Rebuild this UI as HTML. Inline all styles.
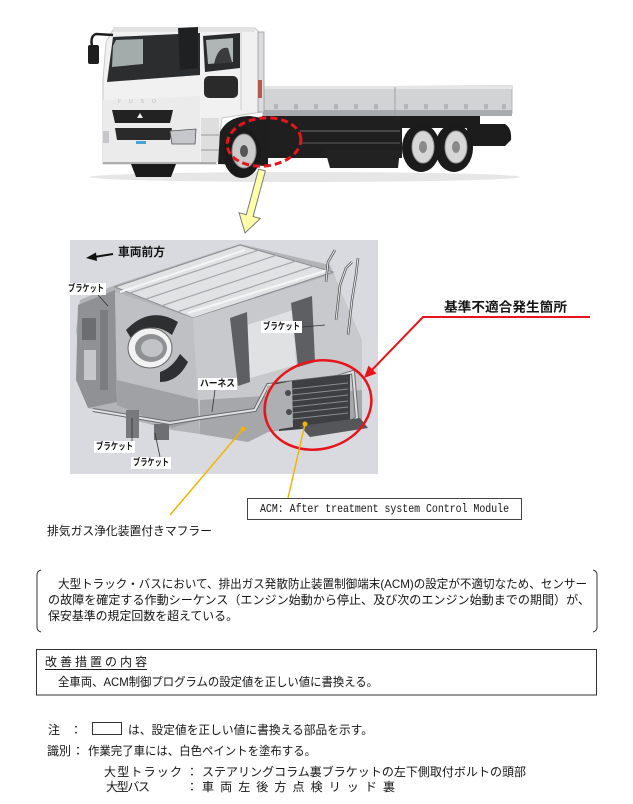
<!DOCTYPE html>
<html><head><meta charset="utf-8"><style>
html,body{margin:0;padding:0;background:#fff;}
svg{display:block;}
.jp{font-family:"Liberation Sans","Noto Sans CJK JP","IPAGothic",sans-serif;fill:#151515;}
</style></head><body>
<svg width="633" height="804" viewBox="0 0 633 804" xmlns="http://www.w3.org/2000/svg">
<rect width="633" height="804" fill="#fff"/>

<!-- ================= TRUCK ================= -->
<ellipse cx="305" cy="177" rx="215" ry="5" fill="#e6e6e6"/>
<!-- bed -->
<polygon points="263,87 512,86 512,113 263,116" fill="#d2d3d5" stroke="#b5b6b8" stroke-width="1"/>
<rect x="263" y="86" width="249" height="3" fill="#e4e5e6"/>
<rect x="263" y="110" width="249" height="6" fill="#a9aaad"/>
<line x1="395" y1="87" x2="395" y2="115" stroke="#a0a0a3"/>
<g fill="#b4b5b8">
<rect x="274" y="104" width="4" height="5"/><rect x="294" y="104" width="4" height="5"/><rect x="314" y="104" width="4" height="5"/>
<rect x="334" y="104" width="4" height="5"/><rect x="354" y="104" width="4" height="5"/><rect x="374" y="104" width="4" height="5"/>
<rect x="404" y="104" width="4" height="5"/><rect x="424" y="104" width="4" height="5"/><rect x="444" y="104" width="4" height="5"/>
<rect x="464" y="104" width="4" height="5"/><rect x="484" y="104" width="4" height="5"/><rect x="502" y="104" width="4" height="5"/>
</g>
<!-- chassis -->
<rect x="262" y="116" width="140" height="42" fill="#1f1f1f"/>
<line x1="300" y1="131" x2="400" y2="131" stroke="#555" stroke-width="1.5"/>
<line x1="300" y1="143" x2="400" y2="143" stroke="#4a4a4a" stroke-width="1.5"/>
<polygon points="325,150 400,150 398,168 330,168" fill="#222"/>
<rect x="400" y="116" width="80" height="12" fill="#1c1c1c"/>
<path d="M466,124 L505,124 Q512,128 511,140 L505,146 L470,146 Z" fill="#1c1c1c"/>
<!-- rear wheels -->
<ellipse cx="421" cy="148" rx="19" ry="24" fill="#1b1b1b"/>
<ellipse cx="423" cy="147" rx="11" ry="16" fill="#d7d7d7" stroke="#999"/>
<ellipse cx="423" cy="147" rx="4" ry="6" fill="#8a8a8a"/>
<ellipse cx="454" cy="148" rx="19" ry="24" fill="#1b1b1b"/>
<ellipse cx="456" cy="147" rx="11" ry="16" fill="#d7d7d7" stroke="#999"/>
<ellipse cx="456" cy="147" rx="4" ry="6" fill="#8a8a8a"/>

<!-- cab body -->
<polygon points="103,80 106,42 113,30 255,28 262,35 262,112 222,118 216,164 103,164" fill="#f1f1f2" stroke="#c9c9cb" stroke-width="1"/>
<polygon points="103,100 200,96 200,164 103,164" fill="#ebebec"/>
<rect x="113" y="27" width="142" height="5" fill="#e2e2e3"/>
<!-- windshield -->
<polygon points="107,82 113,37 200,33 200,75" fill="#2b2d2f"/>
<polygon points="113,46 116,40 143,39 143,64 112,67" fill="#a3abab"/>
<polygon points="178,28 198,27 198,68 180,70" fill="#1f2022"/>
<!-- door window -->
<polygon points="203,36 240,33 240,68 205,72" fill="#2a2b2d"/>
<polygon points="206,40 233,38 233,62 208,64" fill="#b0b5b5"/>
<path d="M214,64 Q218,46 228,48 L232,62 Z" fill="#3a3b3d"/>
<rect x="204" y="76" width="34" height="22" rx="5" fill="#2a2a2a"/>
<line x1="241" y1="32" x2="241" y2="110" stroke="#cfcfd1"/>
<rect x="258" y="32" width="6" height="80" fill="#dcdcde" stroke="#9a9a9c" stroke-width="0.8"/>
<rect x="258" y="80" width="4" height="18" fill="#b35a4a"/>
<!-- mirror -->
<path d="M113,35 L96,34 Q90,36 92,46" fill="none" stroke="#1e1e1e" stroke-width="2.5"/>
<rect x="88" y="45" width="11" height="19" rx="2" fill="#1e1e1e"/>
<!-- front details -->
<text x="118" y="103" font-family="Liberation Sans,sans-serif" font-size="5" fill="#bdbdbd" letter-spacing="8">FUSO</text>
<polygon points="112,110 173,110 170,123 115,123" fill="#222"/>
<polygon points="140,113 143,118 137,118" fill="#eee"/>
<polygon points="115,128 172,128 170,140 117,140" fill="#2a2a2a"/>
<rect x="136" y="141" width="10" height="3" fill="#4aa3d8"/>
<polygon points="170,131 196,129 195,144 172,144" fill="#c5c7ca" stroke="#555" stroke-width="0.8"/>
<rect x="103" y="131" width="6" height="12" fill="#c5c7ca"/>
<line x1="103" y1="163" x2="216" y2="163" stroke="#999" stroke-width="1.5"/>
<polygon points="131,164 176,164 171,177 136,177" fill="#1a1a1a"/>
<rect x="201" y="118" width="18" height="44" fill="#dedede"/>
<line x1="201" y1="135" x2="219" y2="135" stroke="#999"/>
<line x1="201" y1="150" x2="219" y2="150" stroke="#999"/>
<!-- front wheel -->
<path d="M218,164 L220,132 Q228,116 250,116 L262,118 L268,122 L268,166 Z" fill="#1e1e1e"/>
<ellipse cx="242" cy="153" rx="19" ry="25" fill="#1a1a1a"/>
<ellipse cx="244" cy="151" rx="12" ry="17" fill="#cbcbcb" stroke="#888"/>
<ellipse cx="244" cy="151" rx="4" ry="6" fill="#555"/>
<!-- red dashed ellipse -->
<ellipse cx="264" cy="142" rx="37" ry="24" transform="rotate(-6 264 142)" fill="none" stroke="#e8141b" stroke-width="3" stroke-dasharray="7 4"/>
<!-- yellow arrow -->
<polygon points="258.6,169.1 265.4,170.9 253.1,216.5 260.3,218.5 245,233 239.1,212.7 246.3,214.7" fill="#ffffa8" stroke="#7a7a7a" stroke-width="1"/>

<!-- ================= MUFFLER IMAGE ================= -->
<rect x="70" y="240" width="308" height="234" fill="#d8dadf"/>
<polygon points="80,300 115,285 240,244 330,265 340,290 362,340 362,420 268,432 248,442 200,434 172,430 88,408 76,330" fill="#b2b4b8"/>
<polygon points="78,305 115,290 117,402 88,408 76,380" fill="#8f9195"/>
<rect x="82" y="318" width="14" height="22" fill="#6b6d71"/>
<rect x="84" y="350" width="12" height="30" fill="#c6c7ca"/>
<rect x="100" y="310" width="8" height="80" fill="#7a7c80"/>
<polygon points="115,287 240,245 333,272 193,318" fill="#e1e2e4" stroke="#8c8d90" stroke-width="1"/>
<g stroke="#a7a8ab" stroke-width="1.2">
<line x1="130" y1="293" x2="259" y2="250"/>
<line x1="146" y1="299" x2="277" y2="255"/>
<line x1="161" y1="306" x2="296" y2="261"/>
<line x1="177" y1="312" x2="314" y2="266"/>
</g>
<line x1="120" y1="292" x2="245" y2="250" stroke="#f5f5f5" stroke-width="2"/>
<line x1="188" y1="313" x2="328" y2="270" stroke="#f5f5f5" stroke-width="2"/>
<polygon points="115,292 193,318 200,420 172,428 117,405" fill="#bfc0c3"/>
<polygon points="117,380 200,400 200,420 172,428 117,405" fill="#9fa1a5"/>
<path d="M126,330 Q150,305 178,322 L172,335 Q150,318 132,340 Z" fill="#2e2f31"/>
<path d="M160,372 Q172,368 180,354 L188,362 Q178,382 160,382 Z" fill="#2e2f31"/>
<ellipse cx="150" cy="348" rx="22" ry="20" fill="#f2f2f2" stroke="#666" stroke-width="1"/>
<ellipse cx="151" cy="348" rx="16" ry="14" fill="#8f9094"/>
<ellipse cx="152" cy="348" rx="11" ry="9" fill="#c2c3c6"/>
<polygon points="193,318 333,274 340,290 362,340 362,420 268,432 248,442 200,434" fill="#c8c9cc"/>
<polygon points="200,400 362,390 362,420 268,432 248,442 200,434" fill="#a5a7ab"/>
<polygon points="247,325 293,310 296,365 250,378" fill="#e0e1e3"/>
<polygon points="230,318 247,312 250,382 238,386" fill="#5e5f63"/>
<polygon points="291,303 312,296 315,362 298,367" fill="#5e5f63"/>
<g fill="none" stroke="#4e4f52" stroke-width="2.5">
<polyline points="326,282 328,262 335,250"/>
<polyline points="336,320 340,285 346,268 352,262"/>
<polyline points="348,335 352,300 356,275 358,258"/>
</g>
<g fill="none" stroke="#eee" stroke-width="1">
<polyline points="326,282 328,262 335,250"/>
<polyline points="336,320 340,285 346,268 352,262"/>
<polyline points="348,335 352,300 356,275 358,258"/>
</g>
<polyline points="93,410 170,423 200,418 255,410 268,385 337,377 353,372 357,418 347,425" fill="none" stroke="#6a6b6e" stroke-width="4"/>
<polyline points="93,410 170,423 200,418 255,410 268,385 337,377 353,372 357,418 347,425" fill="none" stroke="#e0e0e2" stroke-width="2"/>
<polygon points="275,383 350,374 350,425 279,431" fill="#3e3f42"/>
<g stroke="#8a8b8e" stroke-width="1">
<line x1="292" y1="389" x2="348" y2="383"/><line x1="292" y1="395" x2="348" y2="389"/>
<line x1="292" y1="401" x2="348" y2="395"/><line x1="292" y1="407" x2="348" y2="401"/>
<line x1="292" y1="413" x2="348" y2="407"/><line x1="292" y1="419" x2="348" y2="413"/>
</g>
<polygon points="267,386 292,381 293,427 268,431" fill="#aeafb2"/>
<circle cx="288" cy="393" r="3" fill="#4a4a4d"/>
<circle cx="289" cy="412" r="3" fill="#4a4a4d"/>
<polygon points="300,426 360,418 368,428 310,437" fill="#55565a"/>
<rect x="126" y="410" width="13" height="28" fill="#77797d"/>
<rect x="154" y="424" width="15" height="16" fill="#6d6f73"/>
<g stroke="#333" stroke-width="0.8">
<line x1="98" y1="295" x2="108" y2="306"/>
<line x1="302" y1="327" x2="325" y2="325"/>
<line x1="215" y1="390" x2="212" y2="412"/>
<line x1="132" y1="441" x2="132" y2="418"/>
<line x1="160" y1="457" x2="155" y2="433"/>
</g>
<line x1="113" y1="254" x2="94" y2="257" stroke="#111" stroke-width="2"/>
<polygon points="86,258 96,252.5 97,261" fill="#111"/>
<text class="jp" x="118" y="252" font-size="12" font-weight="bold" dominant-baseline="central" textLength="47" lengthAdjust="spacingAndGlyphs">車両前方</text>
<g fill="#fff">
<rect x="66" y="283" width="40" height="12"/>
<rect x="261" y="321" width="41" height="12"/>
<rect x="198" y="378" width="39" height="12"/>
<rect x="94" y="441" width="41" height="12"/>
<rect x="131" y="457" width="40" height="12"/>
</g>
<g class="jp" font-size="9.5" font-weight="bold">
<text x="68" y="289" dominant-baseline="central" textLength="36" lengthAdjust="spacingAndGlyphs">ブラケット</text>
<text x="263" y="327" dominant-baseline="central" textLength="37" lengthAdjust="spacingAndGlyphs">ブラケット</text>
<text x="200" y="384" dominant-baseline="central" textLength="35" lengthAdjust="spacingAndGlyphs">ハーネス</text>
<text x="96" y="447" dominant-baseline="central" textLength="37" lengthAdjust="spacingAndGlyphs">ブラケット</text>
<text x="133" y="463" dominant-baseline="central" textLength="36" lengthAdjust="spacingAndGlyphs">ブラケット</text>
</g>

<!-- red callout -->
<ellipse cx="318" cy="405" rx="54" ry="44" transform="rotate(-15 318 405)" fill="none" stroke="#e8141b" stroke-width="2.5"/>
<polyline points="590,317 423,317 369,373" fill="none" stroke="#e8141b" stroke-width="2"/>
<polygon points="364,378 376.5,373.5 368.5,365.5" fill="#e8141b"/>
<text class="jp" x="444" y="307" font-size="13" font-weight="bold" dominant-baseline="central" textLength="123" lengthAdjust="spacingAndGlyphs">基準不適合発生箇所</text>

<!-- orange leaders -->
<line x1="243" y1="429" x2="170" y2="515" stroke="#f5b400" stroke-width="1.5"/>
<line x1="305" y1="424" x2="288" y2="498" stroke="#f5b400" stroke-width="1.5"/>
<circle cx="243" cy="429" r="2.5" fill="#f5b400"/>
<circle cx="305" cy="424" r="2.5" fill="#f5b400"/>

<!-- ACM box -->
<rect x="247.5" y="498.5" width="274" height="21" fill="#fff" stroke="#444" stroke-width="1"/>
<text x="260" y="509" font-family="Liberation Mono,monospace" font-size="12" fill="#151515" dominant-baseline="central" textLength="249" lengthAdjust="spacingAndGlyphs">ACM: After treatment system Control Module</text>

<text class="jp" x="47" y="531" font-size="12" dominant-baseline="central" textLength="165" lengthAdjust="spacingAndGlyphs">排気ガス浄化装置付きマフラー</text>

<!-- paragraph with brackets -->
<path d="M41,570 Q37,571 37,575 L37,627 Q37,631 41,632" fill="none" stroke="#333" stroke-width="1"/>
<path d="M593,570 Q597,571 597,575 L597,627 Q597,631 593,632" fill="none" stroke="#333" stroke-width="1"/>
<g class="jp" font-size="12">
<text x="58" y="584" dominant-baseline="central" textLength="529" lengthAdjust="spacingAndGlyphs">大型トラック・バスにおいて、排出ガス発散防止装置制御端末(ACM)の設定が不適切なため、センサー</text>
<text x="48" y="600" dominant-baseline="central" textLength="542" lengthAdjust="spacingAndGlyphs">の故障を確定する作動シーケンス（エンジン始動から停止、及び次のエンジン始動までの期間）が、</text>
<text x="48" y="616" dominant-baseline="central" textLength="190" lengthAdjust="spacingAndGlyphs">保安基準の規定回数を超えている。</text>
</g>

<!-- remedy box -->
<rect x="36.5" y="649.5" width="560" height="45.5" fill="none" stroke="#333" stroke-width="1"/>
<g class="jp" font-size="12">
<text x="45" y="662" dominant-baseline="central" textLength="102" lengthAdjust="spacing">改善措置の内容</text>
<text x="58" y="682" dominant-baseline="central" textLength="320" lengthAdjust="spacingAndGlyphs">全車両、ACM制御プログラムの設定値を正しい値に書換える。</text>
</g>
<line x1="45" y1="669.5" x2="147" y2="669.5" stroke="#222" stroke-width="1"/>

<!-- notes -->
<g class="jp" font-size="12">
<text x="48" y="730" dominant-baseline="central">注</text>
<text x="70" y="730" dominant-baseline="central">：</text>
<text x="128" y="730" dominant-baseline="central" textLength="245" lengthAdjust="spacingAndGlyphs">は、設定値を正しい値に書換える部品を示す。</text>
<text x="47" y="751" dominant-baseline="central" textLength="24" lengthAdjust="spacing">識別</text>
<text x="72" y="751" dominant-baseline="central">：</text>
<text x="88" y="751" dominant-baseline="central" textLength="228" lengthAdjust="spacingAndGlyphs">作業完了車には、白色ペイントを塗布する。</text>
<text x="104" y="772" dominant-baseline="central" textLength="78" lengthAdjust="spacing">大型トラック</text>
<text x="186" y="772" dominant-baseline="central">：</text>
<text x="202" y="772" dominant-baseline="central" textLength="324" lengthAdjust="spacingAndGlyphs">ステアリングコラム裏ブラケットの左下側取付ボルトの頭部</text>
<text x="106" y="787" dominant-baseline="central" textLength="44" lengthAdjust="spacing">大型バス</text>
<text x="186" y="787" dominant-baseline="central">：</text>
<text x="202" y="787" dominant-baseline="central" textLength="193" lengthAdjust="spacing">車両左後方点検リッド裏</text>
</g>
<rect x="92.5" y="722.5" width="29" height="12" fill="none" stroke="#333" stroke-width="1"/>
</svg>
</body></html>
